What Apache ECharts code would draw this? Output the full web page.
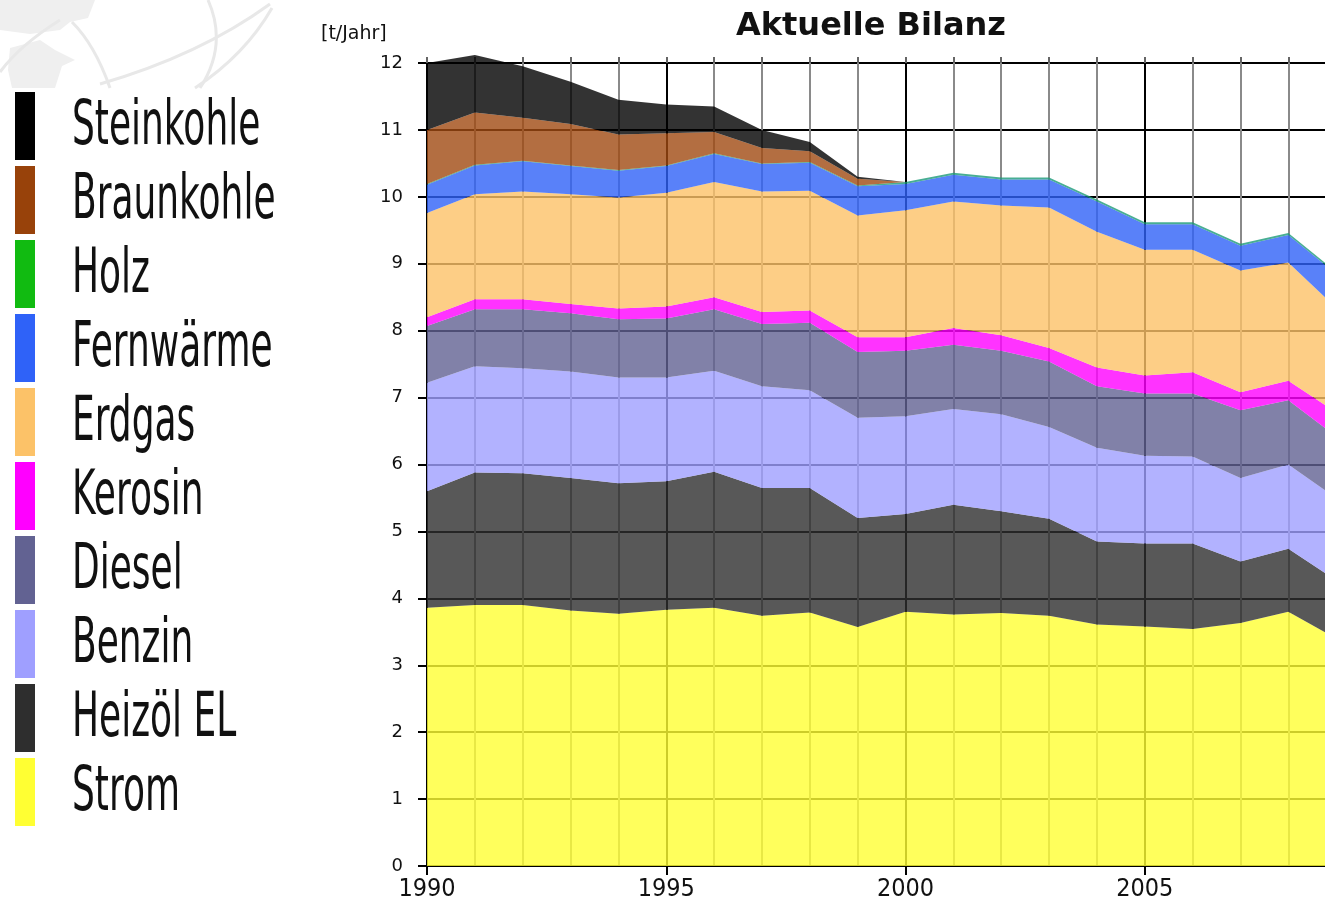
<!DOCTYPE html>
<html>
<head>
<meta charset="utf-8">
<script src="https://cdn.jsdelivr.net/npm/echarts@6/dist/echarts.min.js"></script>
<style>
  html, body { margin: 0; padding: 0; background: #fff; }
  #chart { width: 1325px; height: 902px; }
</style>
</head>
<body>
<div id="chart"></div>
<script>
// Jahre der x-Achse (2010 liegt schon rechts ausserhalb des Bildes)
var years = ['1990', '1991', '1992', '1993', '1994', '1995', '1996', '1997', '1998', '1999',
             '2000', '2001', '2002', '2003', '2004', '2005', '2006', '2007', '2008', '2009', '2010'];

// Werte je Energietraeger in t/Jahr, 1990-2009 (von unten nach oben gestapelt)
var strom      = [3.86, 3.90, 3.90, 3.82, 3.77, 3.83, 3.86, 3.74, 3.79, 3.57, 3.80, 3.76, 3.78, 3.74, 3.61, 3.58, 3.54, 3.63, 3.80, 3.40];
var heizoel    = [1.74, 1.98, 1.97, 1.98, 1.95, 1.92, 2.03, 1.91, 1.86, 1.63, 1.46, 1.64, 1.52, 1.45, 1.24, 1.24, 1.28, 0.92, 0.94, 0.87];
var benzin     = [1.62, 1.59, 1.57, 1.59, 1.58, 1.55, 1.51, 1.52, 1.46, 1.50, 1.46, 1.43, 1.45, 1.37, 1.40, 1.31, 1.30, 1.25, 1.26, 1.23];
var diesel     = [0.85, 0.85, 0.88, 0.87, 0.87, 0.88, 0.92, 0.93, 1.01, 0.98, 0.98, 0.96, 0.95, 0.98, 0.92, 0.93, 0.94, 1.01, 0.96, 0.92];
var kerosin    = [0.13, 0.15, 0.15, 0.14, 0.16, 0.18, 0.18, 0.18, 0.18, 0.22, 0.20, 0.25, 0.23, 0.20, 0.28, 0.27, 0.32, 0.27, 0.29, 0.36];
var erdgas     = [1.56, 1.57, 1.61, 1.64, 1.66, 1.70, 1.72, 1.80, 1.79, 1.82, 1.90, 1.89, 1.94, 2.10, 2.03, 1.88, 1.83, 1.82, 1.77, 1.56];
var fernwaerme = [0.42, 0.43, 0.45, 0.42, 0.40, 0.40, 0.42, 0.41, 0.42, 0.44, 0.39, 0.40, 0.39, 0.42, 0.45, 0.38, 0.38, 0.37, 0.41, 0.51];
var holz       = [0.01, 0.01, 0.01, 0.01, 0.01, 0.01, 0.01, 0.01, 0.01, 0.01, 0.03, 0.03, 0.03, 0.03, 0.03, 0.03, 0.03, 0.03, 0.03, 0.03];
var braunkohle = [0.81, 0.78, 0.64, 0.62, 0.53, 0.48, 0.32, 0.23, 0.16, 0.10, 0, 0, 0, 0, 0, 0, 0, 0, 0, 0];
var steinkohle = [1.00, 0.86, 0.77, 0.63, 0.52, 0.43, 0.38, 0.27, 0.14, 0.03, 0, 0, 0, 0, 0, 0, 0, 0, 0, 0];

// Stapelreihenfolge unten -> oben: Name, Werte, Legendenfarbe, Flaechenfarbe
var layers = [
  ['Strom', strom, '#ffff33', '#ffff33'],
  ['Heizöl EL', heizoel, '#2e2e2e', '#2e2e2e'],
  ['Benzin', benzin, '#9f9fff', '#9f9fff'],
  ['Diesel', diesel, '#626292', '#626292'],
  ['Kerosin', kerosin, '#ff00ff', '#ff00ff'],
  ['Erdgas', erdgas, '#fcc268', '#fcc268'],
  ['Fernwärme', fernwaerme, '#2f62f8', '#2f62f8'],
  ['Holz', holz, '#11bb11', '#1a9a78'],
  ['Braunkohle', braunkohle, '#98420a', '#a04a12'],
  ['Steinkohle', steinkohle, '#000000', '#000000']
];

var series = layers.map(function (l) {
  return {
    name: l[0],
    type: 'line',
    stack: 'bilanz',
    showSymbol: false,
    clip: false,
    color: l[2],
    lineStyle: { width: 0, opacity: 0 },
    areaStyle: { color: l[3], opacity: 0.8 },
    data: l[1]
  };
});

// blasses Globus-Wasserzeichen oben links
var deco = { stroke: '#e8e8e8', lineWidth: 3, fill: null };
var graphics = [
  { type: 'polygon', shape: { points: [[0, 0], [95, 0], [88, 18], [70, 22], [60, 30], [30, 34], [0, 30]] },
    style: { fill: '#efefef' } },
  { type: 'polygon', shape: { points: [[10, 48], [40, 40], [55, 50], [75, 60], [62, 66], [55, 88], [12, 88], [8, 70]] },
    style: { fill: '#efefef' } },
  { type: 'bezierCurve', shape: { x1: 72, y1: 22, x2: 110, y2: 88, cpx1: 95, cpy1: 45 }, style: deco },
  { type: 'bezierCurve', shape: { x1: 100, y1: 84, x2: 270, y2: 4, cpx1: 200, cpy1: 55 }, style: deco },
  { type: 'bezierCurve', shape: { x1: 208, y1: 0, x2: 200, y2: 88, cpx1: 228, cpy1: 45 }, style: deco },
  { type: 'bezierCurve', shape: { x1: 195, y1: 88, x2: 272, y2: 8, cpx1: 245, cpy1: 55 }, style: deco },
  { type: 'bezierCurve', shape: { x1: 0, y1: 72, x2: 60, y2: 20, cpx1: 20, cpy1: 45 }, style: deco }
];

// Legende links: Farbbalken + Text (oben Steinkohle, unten Strom)
layers.slice().reverse().forEach(function (l, i) {
  var top = 92 + i * 74;
  graphics.push({
    type: 'rect',
    shape: { x: 15, y: top, width: 20, height: 68 },
    style: { fill: l[2] }
  });
  graphics.push({
    type: 'text',
    x: 72, y: top + 36,
    scaleX: 0.58,
    style: {
      text: l[0],
      fontFamily: 'DejaVu Sans', fontSize: 62,
      fill: '#111',
      textVerticalAlign: 'middle'
    }
  });
});

var fiveYears = function (i) { return i % 5 === 0 && i < 20; };

var chart = echarts.init(document.getElementById('chart'));
chart.setOption({
  animation: false,
  backgroundColor: '#fff',
  title: [
    {
      text: 'Aktuelle Bilanz',
      left: 731, top: 6,
      textStyle: { fontFamily: 'DejaVu Sans', fontWeight: 'bold', fontSize: 32, color: '#111' }
    },
    {
      text: '[t/Jahr]',
      left: 316, top: 20,
      textStyle: { fontFamily: 'DejaVu Sans', fontWeight: 'normal', fontSize: 19, color: '#111' }
    }
  ],
  graphic: graphics,
  grid: { left: 427, top: 63, bottom: 36, right: -59, outerBoundsMode: 'none' },
  xAxis: [
    {
      type: 'category',
      data: years,
      boundaryGap: false,
      axisLine: { show: true, lineStyle: { color: '#000', width: 2 } },
      axisTick: { show: true, length: 9, interval: fiveYears, lineStyle: { color: '#000', width: 2 } },
      axisLabel: {
        margin: 11, interval: fiveYears,
        fontFamily: "'DejaVu Sans Condensed', 'DejaVu Sans'", fontSize: 25, color: '#111'
      },
      splitLine: {
        show: true, interval: 0,
        lineStyle: { color: ['#000', '#8a8a8a', '#8a8a8a', '#8a8a8a', '#8a8a8a'], width: 2 }
      }
    },
    {
      type: 'category',
      data: years,
      boundaryGap: false,
      position: 'top',
      axisLine: { show: false },
      axisTick: { show: true, length: 6, interval: 0, lineStyle: { color: '#666', width: 2 } },
      axisLabel: { show: false },
      splitLine: { show: false }
    }
  ],
  yAxis: {
    type: 'value',
    min: 0, max: 12, interval: 1,
    axisLine: { show: true, lineStyle: { color: '#000', width: 2 } },
    axisTick: { show: true, length: 9, lineStyle: { color: '#000', width: 2 } },
    axisLabel: { margin: 24, fontFamily: 'DejaVu Sans', fontSize: 18, color: '#111' },
    splitLine: { show: true, lineStyle: { color: '#000', width: 2 } }
  },
  series: series
});
</script>
</body>
</html>
